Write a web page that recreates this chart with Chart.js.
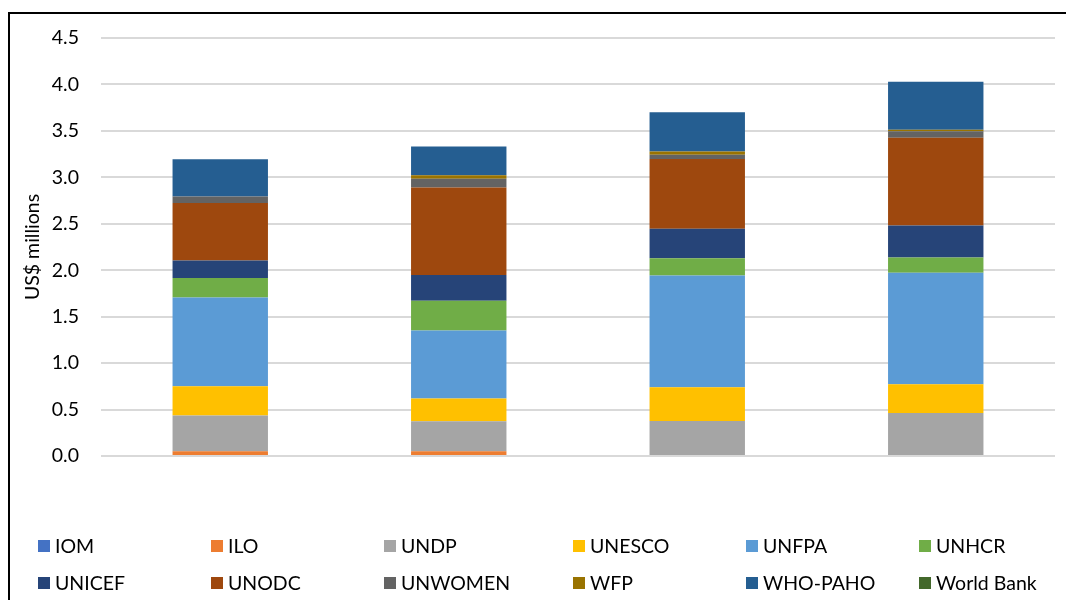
<!DOCTYPE html>
<html><head><meta charset="utf-8">
<script src="https://cdn.jsdelivr.net/npm/chart.js@4/dist/chart.umd.min.js"></script>
<style>
html,body{margin:0;padding:0;background:#fff;}
#wrap{position:relative;width:1066px;height:600px;overflow:hidden;font-family:Lato,'Liberation Sans',sans-serif;}
#frame{position:absolute;left:8px;top:12px;right:-10px;bottom:-10px;border-top:2px solid #000;border-left:2px solid #000;}
canvas{position:absolute;left:0;top:0;}
.item{position:absolute;display:flex;align-items:center;font-size:19.5px;line-height:22px;color:#000;white-space:nowrap;transform:translateY(-50%);}
.sw{width:12px;height:12px;margin-right:5px;flex:none;}
</style></head>
<body>
<div id="wrap">
<div id="frame"></div>
<canvas id="c" width="1066" height="600"></canvas>
<div id="legend"></div>
</div>
<script>
const categories = ['', '', '', ''];
const seriesNames = ['IOM','ILO','UNDP','UNESCO','UNFPA','UNHCR','UNICEF','UNODC','UNWOMEN','WFP','WHO-PAHO','World Bank'];
const seriesColors = ['#4472C4','#ED7D31','#A5A5A5','#FFC000','#5B9BD5','#70AD47','#264478','#9E480E','#636363','#997300','#255E91','#43682B'];
const IOM      = [0, 0, 0, 0];
const ILO      = [0.05, 0.05, 0, 0];
const UNDP     = [0.385, 0.325, 0.377, 0.463];
const UNESCO   = [0.317, 0.244, 0.363, 0.309];
const UNFPA    = [0.953, 0.733, 1.203, 1.200];
const UNHCR    = [0.21, 0.32, 0.187, 0.165];
const UNICEF   = [0.19, 0.276, 0.316, 0.345];
const UNODC    = [0.62, 0.942, 0.751, 0.945];
const UNWOMEN  = [0.07, 0.095, 0.046, 0.068];
const WFP      = [0, 0.037, 0.036, 0.018];
const WHOPAHO  = [0.40, 0.309, 0.421, 0.517];
const WorldBank= [0, 0, 0, 0];
const yTicks = [0, 0.5, 1.0, 1.5, 2.0, 2.5, 3.0, 3.5, 4.0, 4.5];
const yTitle = 'US$ millions';

const seriesValues = [IOM, ILO, UNDP, UNESCO, UNFPA, UNHCR, UNICEF, UNODC, UNWOMEN, WFP, WHOPAHO, WorldBank];
const FONT = 'Lato';

const datasets = seriesNames.map((n, i) => ({
  label: n, data: seriesValues[i], backgroundColor: seriesColors[i],
  borderWidth: 0, barPercentage: 0.4, categoryPercentage: 1.0
}));

new Chart(document.getElementById('c'), {
  type: 'bar',
  data: { labels: categories, datasets },
  options: {
    responsive: false, animation: false,
    layout: { padding: { left: 21, right: 11, top: 38, bottom: 144 } },
    plugins: { legend: { display: false }, tooltip: { enabled: false } },
    scales: {
      x: { stacked: true, display: false },
      y: {
        stacked: true, min: yTicks[0], max: yTicks[yTicks.length - 1],
        afterBuildTicks(s) { s.ticks = yTicks.map(v => ({ value: v })); },
        afterFit(s) { s.width = 80; },
        ticks: { padding: 22, color: '#000', font: { family: FONT, size: 19.5 }, callback: v => Number(v).toFixed(1) },
        grid: { color: '#d9d9d9', lineWidth: 2, drawTicks: false },
        border: { display: false },
        title: { display: true, text: yTitle, color: '#000', font: { family: FONT, size: 19.5 }, padding: 0 }
      }
    }
  }
});

const legendCols = [38, 211, 384, 573, 746, 919];
const legendRows = [546, 583];
const lg = document.getElementById('legend');
seriesNames.forEach((n, i) => {
  const d = document.createElement('div');
  d.className = 'item';
  d.style.left = legendCols[i % 6] + 'px';
  d.style.top = legendRows[Math.floor(i / 6)] + 'px';
  const s = document.createElement('span');
  s.className = 'sw'; s.style.background = seriesColors[i];
  const t = document.createElement('span');
  t.textContent = n;
  d.appendChild(s); d.appendChild(t);
  lg.appendChild(d);
});
</script>
</body></html>
